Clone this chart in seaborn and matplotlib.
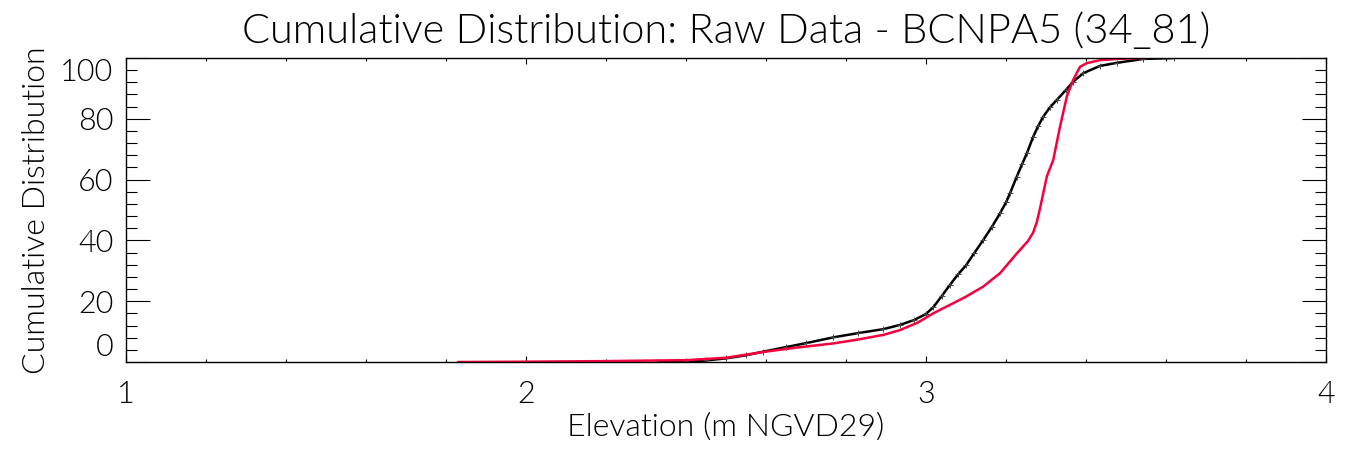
import numpy as np
import pandas as pd
import seaborn as sns
import matplotlib.pyplot as plt
from matplotlib.ticker import MultipleLocator

# values
raw_elev = [2.33, 2.40, 2.45, 2.50, 2.55, 2.593, 2.65, 2.70, 2.768, 2.83,
            2.893, 2.935, 2.97, 3.00, 3.018, 3.04, 3.06, 3.08, 3.10, 3.12,
            3.143, 3.165, 3.185, 3.20, 3.21, 3.227, 3.24, 3.252, 3.268, 3.28,
            3.293, 3.31, 3.327, 3.35, 3.368, 3.393, 3.435, 3.477, 3.543, 3.62]
raw_cdf = [0.0, 0.2, 0.5, 1.2, 2.2, 3.4, 4.9, 6.2, 8.1, 9.5,
           10.8, 12.2, 13.8, 15.8, 18.0, 21.8, 25.4, 28.8, 31.8, 35.7,
           40.1, 44.5, 48.9, 52.5, 55.5, 61.0, 65.0, 68.6, 74.1, 77.5,
           80.7, 83.8, 86.2, 89.5, 92.2, 95.0, 97.4, 98.4, 99.7, 100.0]

ref_elev = [1.83, 2.00, 2.20, 2.40, 2.50, 2.593, 2.68, 2.768, 2.83, 2.893,
            2.935, 2.98, 3.018, 3.06, 3.10, 3.143, 3.185, 3.227, 3.255, 3.268,
            3.277, 3.285, 3.302, 3.318, 3.335, 3.352, 3.368, 3.385, 3.402, 3.435,
            3.48, 3.543]
ref_cdf = [0.0, 0.1, 0.3, 0.6, 1.4, 3.3, 4.8, 6.1, 7.4, 8.9,
           10.5, 13.0, 16.0, 18.8, 21.5, 24.8, 29.2, 35.7, 39.8, 42.6,
           46.0, 50.5, 61.0, 66.4, 77.4, 87.3, 92.8, 97.1, 98.3, 99.3,
           99.7, 100.0]

x_ticks = [1, 2, 3, 4]
y_ticks = [0, 20, 40, 60, 80, 100]

sns.set_style("ticks")
plt.rcParams['font.family'] = ['Lato', 'DejaVu Sans']
plt.rcParams['font.weight'] = 300
plt.rcParams['axes.titleweight'] = 300
plt.rcParams['axes.labelweight'] = 300
plt.rcParams['text.color'] = 'black'
plt.rcParams['axes.labelcolor'] = 'black'

fig = plt.figure(figsize=(13.48, 4.54), dpi=100)
ax = fig.add_axes([126/1348, 92/454, 1200/1348, 304/454])

sns.lineplot(x=raw_elev, y=raw_cdf, ax=ax, color="black", lw=1.8,
             sort=False, estimator=None, marker="+", markersize=5,
             markeredgewidth=0.7, markeredgecolor="#444444")
sns.lineplot(x=ref_elev, y=ref_cdf, ax=ax, color="#f5003c", lw=1.8,
             sort=False, estimator=None)

ax.set_xlim(1, 4)
ax.set_ylim(0, 100)
ax.set_xticks(x_ticks)
ax.set_yticks(y_ticks)
ax.xaxis.set_minor_locator(MultipleLocator(0.2))
ax.yaxis.set_minor_locator(MultipleLocator(4))
ax.tick_params(axis="both", which="both", direction="in", top=True, right=True,
               colors="black", labelcolor="black", width=0.8)
ax.tick_params(axis="x", which="major", length=4, labelsize=22, pad=13)
ax.tick_params(axis="x", which="minor", length=2)
ax.tick_params(axis="y", which="major", length=17, labelsize=22, pad=9)
ax.tick_params(axis="y", which="minor", length=8)
for s in ax.spines.values():
    s.set_linewidth(1.0)
    s.set_color("black")

for lab in ax.get_xticklabels() + ax.get_yticklabels():
    lab.set_fontweight(300)
ylabs = ax.get_yticklabels()
ylabs[0].set_va("bottom")
ylabs[-1].set_va("top")

ax.set_title("Cumulative Distribution: Raw Data - BCNPA5 (34_81)",
             fontsize=30, pad=11, fontweight=300)
ax.set_xlabel("Elevation (m NGVD29)", fontsize=23, labelpad=3, fontweight=300)
ax.set_ylabel("Cumulative Distribution", fontsize=23, labelpad=7, fontweight=300)

fig.savefig("out.png", dpi=100)
